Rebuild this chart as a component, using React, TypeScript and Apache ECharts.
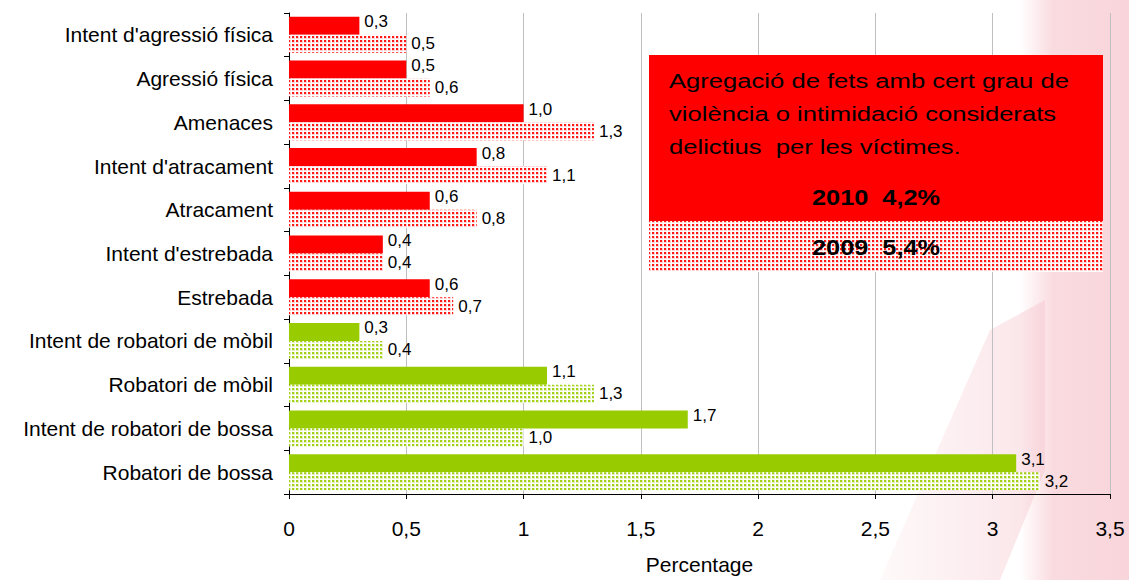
import React, { useEffect, useRef } from "react";
import * as echarts from "echarts";

const categories = [
  "Intent d'agressió física",
  "Agressió física",
  "Amenaces",
  "Intent d'atracament",
  "Atracament",
  "Intent d'estrebada",
  "Estrebada",
  "Intent de robatori de mòbil",
  "Robatori de mòbil",
  "Intent de robatori de bossa",
  "Robatori de bossa",
];
const categoryGroup = ["v", "v", "v", "v", "v", "v", "v", "r", "r", "r", "r"];
const values2010 = [0.3, 0.5, 1.0, 0.8, 0.6, 0.4, 0.6, 0.3, 1.1, 1.7, 3.1];
const values2009 = [0.5, 0.6, 1.3, 1.1, 0.8, 0.4, 0.7, 0.4, 1.3, 1.0, 3.2];
const xTicks = [0, 0.5, 1, 1.5, 2, 2.5, 3, 3.5];
const boxLines = [
  "Agregació de fets amb cert grau de",
  "violència o intimidació considerats",
  "delictius  per les víctimes.",
];
const total2010 = "2010  4,2%";
const total2009 = "2009  5,4%";

const FONT = "'Liberation Sans', Arial, sans-serif";
const RED = "#ff0000";
const GREEN = "#99cc00";

function makePattern(dot: string, light: string) {
  const c = document.createElement("canvas");
  c.width = 4;
  c.height = 4;
  const ctx = c.getContext("2d")!;
  ctx.fillStyle = "#ffffff";
  ctx.fillRect(0, 0, 4, 4);
  ctx.fillStyle = light;
  ctx.fillRect(0, 0, 3, 3);
  ctx.fillStyle = dot;
  ctx.fillRect(0, 0, 2, 2);
  return { image: c, repeat: "repeat", imageWidth: 4, imageHeight: 4 } as any;
}

const fmt = (v: number) => v.toFixed(1).replace(".", ",");

export default function App() {
  const ref = useRef<HTMLDivElement>(null);
  useEffect(() => {
    document.body.style.margin = "0";
    const chart = echarts.init(ref.current!, null, { renderer: "svg" });
    const redPat = makePattern("#ff1a1a", "#ffd0d0");
    const greenPat = makePattern("#a3d11a", "#e2f0b8");
    const solidColor = (g: string) => (g === "v" ? RED : GREEN);
    const patColor = (g: string) => (g === "v" ? redPat : greenPat);

    const labelBase = {
      show: true,
      position: "right",
      distance: 5,
      fontFamily: FONT,
      fontSize: 17,
      color: "#000",
      formatter: (p: any) => fmt(p.value),
    };

    const option: any = {
      animation: false,
      backgroundColor: "#ffffff",
      grid: { left: 289, right: 19, top: 13, bottom: 82 },
      xAxis: {
        type: "value",
        min: 0,
        max: 3.5,
        interval: 0.5,
        name: "Percentage",
        nameLocation: "middle",
        nameGap: 60,
        nameTextStyle: { fontFamily: FONT, fontSize: 21, color: "#000" },
        axisLine: { show: true, lineStyle: { color: "#000", width: 1 } },
        axisTick: { show: true, length: 5, lineStyle: { color: "#000" } },
        axisLabel: {
          margin: 24,
          fontFamily: FONT,
          fontSize: 21,
          color: "#000",
          formatter: (v: number) => {
            const i = xTicks.indexOf(v);
            return i >= 0 ? String(xTicks[i]).replace(".", ",") : "";
          },
        },
        splitLine: { show: true, lineStyle: { color: "#bfbfbf", width: 1 } },
      },
      yAxis: {
        type: "category",
        data: categories,
        inverse: true,
        axisLine: { show: true, lineStyle: { color: "#000", width: 1 } },
        axisTick: { show: true, length: 5, lineStyle: { color: "#000" } },
        axisLabel: { margin: 16, fontFamily: FONT, fontSize: 21, color: "#000" },
        splitLine: { show: false },
      },
      series: [
        {
          name: "2010",
          type: "bar",
          barWidth: 18,
          barGap: "0%",
          data: values2010.map((v, i) => ({
            value: v,
            itemStyle: { color: solidColor(categoryGroup[i]) },
          })),
          label: { ...labelBase, offset: [0, -4] },
        },
        {
          name: "2009",
          type: "bar",
          barWidth: 18,
          barGap: "0%",
          data: values2009.map((v, i) => ({
            value: v,
            itemStyle: { color: patColor(categoryGroup[i]) },
          })),
          label: { ...labelBase, offset: [0, 0] },
        },
      ],
      graphic: [
        {
          type: "rect",
          z: -10,
          silent: true,
          shape: { x: 1020, y: 0, width: 109, height: 580 },
          style: {
            fill: {
              type: "linear",
              x: 0,
              y: 0,
              x2: 1,
              y2: 0,
              colorStops: [
                { offset: 0, color: "rgba(245,190,198,0)" },
                { offset: 0.3, color: "rgba(245,190,198,0.55)" },
                { offset: 1, color: "rgba(245,190,198,0.65)" },
              ],
            },
          },
        },
        {
          type: "polygon",
          z: -10,
          silent: true,
          shape: { points: [[880, 580], [1000, 580], [1045, 470], [1045, 300], [990, 330]] },
          style: {
            fill: {
              type: "linear",
              x: 0,
              y: 0,
              x2: 1,
              y2: 0,
              colorStops: [
                { offset: 0, color: "rgba(245,195,203,0.1)" },
                { offset: 1, color: "rgba(245,195,203,0.45)" },
              ],
            },
          },
        },
        {
          type: "rect",
          z: 100,
          shape: { x: 649, y: 55, width: 454, height: 166 },
          style: { fill: RED },
        },
        {
          type: "rect",
          z: 100,
          shape: { x: 649, y: 221, width: 454, height: 51 },
          style: { fill: redPat },
        },
        {
          type: "text",
          z: 101,
          x: 669,
          y: 64,
          scaleX: 1.22,
          style: {
            text: boxLines.join("\n"),
            fontFamily: FONT,
            fontSize: 21,
            lineHeight: 33,
            fill: "#000",
            verticalAlign: "top",
            align: "left",
          },
        },
        {
          type: "text",
          z: 101,
          x: 876,
          y: 198,
          scaleX: 1.15,
          style: {
            text: total2010,
            fontFamily: FONT,
            fontSize: 22,
            fontWeight: "bold",
            fill: "#000",
            align: "center",
            verticalAlign: "middle",
          },
        },
        {
          type: "text",
          z: 101,
          x: 876,
          y: 248,
          scaleX: 1.15,
          style: {
            text: total2009,
            fontFamily: FONT,
            fontSize: 22,
            fontWeight: "bold",
            fill: "#000",
            align: "center",
            verticalAlign: "middle",
          },
        },
      ],
    };
    chart.setOption(option);
    return () => chart.dispose();
  }, []);
  return <div ref={ref} style={{ width: 1129, height: 580 }} />;
}
